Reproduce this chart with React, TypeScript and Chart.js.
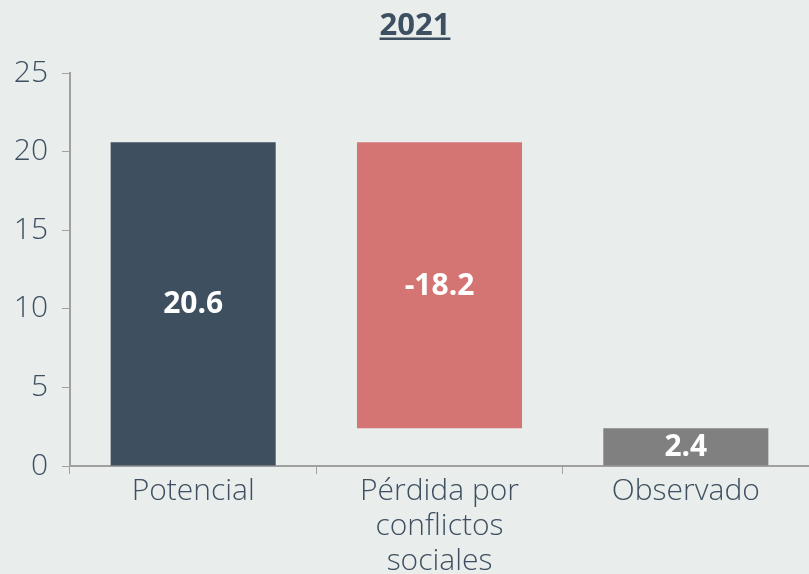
import React, { useEffect, useRef } from "react";
import { Chart, registerables } from "chart.js";

Chart.register(...registerables);

const categories: (string | string[])[] = ["Potencial", ["Pérdida por", "conflictos", "sociales"], "Observado"];
const barStarts = [0, 2.4, 0];
const barEnds = [20.6, 20.6, 2.4];
const labelValues = ["20.6", "-18.2", "2.4"];
const barColors = ["#3E4F60", "#D57573", "#808080"];
const titleText = "2021";
const yTicks = [0, 5, 10, 15, 20, 25];

const TEXT = "#3D4F60";
const FONT = "'Open Sans', 'DejaVu Sans', sans-serif";

const titlePlugin = {
  id: "titleUnderline",
  afterDraw(chart: any) {
    const ctx = chart.ctx;
    ctx.save();
    ctx.font = `700 31px ${FONT}`;
    ctx.fillStyle = TEXT;
    ctx.textAlign = "center";
    ctx.textBaseline = "alphabetic";
    const cx = 415;
    ctx.fillText(titleText, cx, 35);
    const w = ctx.measureText(titleText).width;
    ctx.fillRect(cx - w / 2, 37.5, w, 2.5);
    ctx.restore();
  },
};

const labelPlugin = {
  id: "barLabels",
  afterDatasetsDraw(chart: any) {
    const ctx = chart.ctx;
    const meta = chart.getDatasetMeta(0);
    ctx.save();
    ctx.font = `700 30px ${FONT}`;
    ctx.fillStyle = "#FFFFFF";
    ctx.textAlign = "center";
    ctx.textBaseline = "middle";
    meta.data.forEach((el: any, i: number) => {
      const y = (el.y + el.base) / 2;
      ctx.fillText(labelValues[i], el.x, y + 1);
    });
    ctx.restore();
  },
};

export default function App() {
  const ref = useRef<HTMLCanvasElement>(null);
  useEffect(() => {
    if (!ref.current) return;
    const chart = new Chart(ref.current, {
      type: "bar",
      data: {
        labels: categories as any,
        datasets: [
          {
            data: barStarts.map((s, i) => [s, barEnds[i]]) as any,
            backgroundColor: barColors,
            borderWidth: 0,
            categoryPercentage: 1,
            barPercentage: 0.67,
          },
        ],
      },
      options: {
        animation: false,
        responsive: true,
        maintainAspectRatio: false,
        layout: { padding: { top: 73, right: 0, left: 0, bottom: 0 } },
        plugins: { legend: { display: false }, tooltip: { enabled: false }, title: { display: false } },
        scales: {
          x: {
            offset: true,
            grid: { display: true, drawOnChartArea: false, drawTicks: true, tickLength: 8, color: "#A0A0A0", offset: true },
            border: { display: true, color: "#A0A0A0", width: 2 },
            ticks: { color: TEXT, font: { family: FONT, size: 30, weight: "300" as any, lineHeight: 1.16 }, padding: 0, maxRotation: 0, autoSkip: false },
            afterFit(scale: any) { scale.height = 574 - 466; },
          },
          y: {
            min: 0,
            max: 25,
            afterBuildTicks(scale: any) { scale.ticks = yTicks.map((v) => ({ value: v })); },
            grid: { display: true, drawOnChartArea: false, drawTicks: true, tickLength: 8, color: "#A0A0A0" },
            border: { display: true, color: "#A0A0A0", width: 2 },
            ticks: { color: TEXT, font: { family: FONT, size: 30, weight: "300" as any }, padding: 14 },
            afterFit(scale: any) { scale.width = 70; },
          },
        },
      },
      plugins: [titlePlugin, labelPlugin],
    });
    return () => chart.destroy();
  }, []);
  return (
    <div style={{ position: "absolute", left: 0, top: 0, width: 809, height: 574, background: "#E9EDEC" }}>
      <canvas ref={ref} />
    </div>
  );
}
